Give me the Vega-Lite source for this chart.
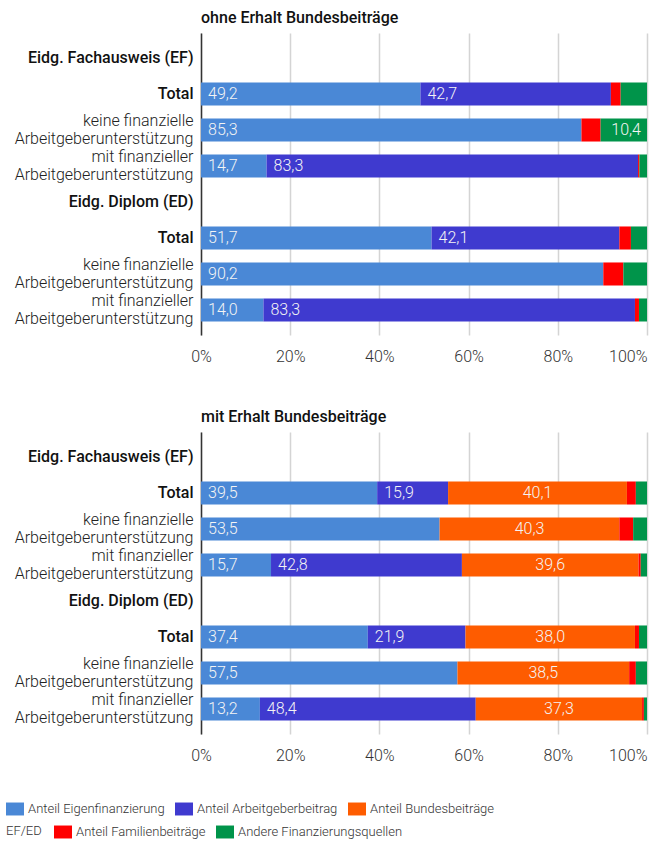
{
  "$schema": "https://vega.github.io/schema/vega-lite/v6.json",
  "padding": {"left": 6, "top": 10, "right": 3, "bottom": 5},
  "background": "white",
  "bounds": "flush",
  "data": {
    "values": [
      {"panel": "ohne", "row": "1|Eidg. Fachausweis (EF)", "category": "EF/ED", "value": 0},
      {"panel": "ohne", "row": "2|Total", "category": "Anteil Eigenfinanzierung", "value": 49.2},
      {"panel": "ohne", "row": "2|Total", "category": "Anteil Arbeitgeberbeitrag", "value": 42.7},
      {"panel": "ohne", "row": "2|Total", "category": "Anteil Familienbeiträge", "value": 2.2},
      {"panel": "ohne", "row": "2|Total", "category": "Andere Finanzierungsquellen", "value": 5.9},
      {"panel": "ohne", "row": "3|keine finanzielle|Arbeitgeberunterstützung", "category": "Anteil Eigenfinanzierung", "value": 85.3},
      {"panel": "ohne", "row": "3|keine finanzielle|Arbeitgeberunterstützung", "category": "Anteil Familienbeiträge", "value": 4.3},
      {"panel": "ohne", "row": "3|keine finanzielle|Arbeitgeberunterstützung", "category": "Andere Finanzierungsquellen", "value": 10.4},
      {"panel": "ohne", "row": "4|mit finanzieller|Arbeitgeberunterstützung", "category": "Anteil Eigenfinanzierung", "value": 14.7},
      {"panel": "ohne", "row": "4|mit finanzieller|Arbeitgeberunterstützung", "category": "Anteil Arbeitgeberbeitrag", "value": 83.3},
      {"panel": "ohne", "row": "4|mit finanzieller|Arbeitgeberunterstützung", "category": "Anteil Familienbeiträge", "value": 0.3},
      {"panel": "ohne", "row": "4|mit finanzieller|Arbeitgeberunterstützung", "category": "Andere Finanzierungsquellen", "value": 1.7},
      {"panel": "ohne", "row": "5|Eidg. Diplom (ED)", "category": "EF/ED", "value": 0},
      {"panel": "ohne", "row": "6|Total", "category": "Anteil Eigenfinanzierung", "value": 51.7},
      {"panel": "ohne", "row": "6|Total", "category": "Anteil Arbeitgeberbeitrag", "value": 42.1},
      {"panel": "ohne", "row": "6|Total", "category": "Anteil Familienbeiträge", "value": 2.6},
      {"panel": "ohne", "row": "6|Total", "category": "Andere Finanzierungsquellen", "value": 3.6},
      {"panel": "ohne", "row": "7|keine finanzielle|Arbeitgeberunterstützung", "category": "Anteil Eigenfinanzierung", "value": 90.2},
      {"panel": "ohne", "row": "7|keine finanzielle|Arbeitgeberunterstützung", "category": "Anteil Familienbeiträge", "value": 4.5},
      {"panel": "ohne", "row": "7|keine finanzielle|Arbeitgeberunterstützung", "category": "Andere Finanzierungsquellen", "value": 5.3},
      {"panel": "ohne", "row": "8|mit finanzieller|Arbeitgeberunterstützung", "category": "Anteil Eigenfinanzierung", "value": 14.0},
      {"panel": "ohne", "row": "8|mit finanzieller|Arbeitgeberunterstützung", "category": "Anteil Arbeitgeberbeitrag", "value": 83.3},
      {"panel": "ohne", "row": "8|mit finanzieller|Arbeitgeberunterstützung", "category": "Anteil Familienbeiträge", "value": 0.9},
      {"panel": "ohne", "row": "8|mit finanzieller|Arbeitgeberunterstützung", "category": "Andere Finanzierungsquellen", "value": 1.8},

      {"panel": "mit", "row": "1|Eidg. Fachausweis (EF)", "category": "EF/ED", "value": 0},
      {"panel": "mit", "row": "2|Total", "category": "Anteil Eigenfinanzierung", "value": 39.5},
      {"panel": "mit", "row": "2|Total", "category": "Anteil Arbeitgeberbeitrag", "value": 15.9},
      {"panel": "mit", "row": "2|Total", "category": "Anteil Bundesbeiträge", "value": 40.1},
      {"panel": "mit", "row": "2|Total", "category": "Anteil Familienbeiträge", "value": 2.0},
      {"panel": "mit", "row": "2|Total", "category": "Andere Finanzierungsquellen", "value": 2.5},
      {"panel": "mit", "row": "3|keine finanzielle|Arbeitgeberunterstützung", "category": "Anteil Eigenfinanzierung", "value": 53.5},
      {"panel": "mit", "row": "3|keine finanzielle|Arbeitgeberunterstützung", "category": "Anteil Bundesbeiträge", "value": 40.3},
      {"panel": "mit", "row": "3|keine finanzielle|Arbeitgeberunterstützung", "category": "Anteil Familienbeiträge", "value": 3.1},
      {"panel": "mit", "row": "3|keine finanzielle|Arbeitgeberunterstützung", "category": "Andere Finanzierungsquellen", "value": 3.1},
      {"panel": "mit", "row": "4|mit finanzieller|Arbeitgeberunterstützung", "category": "Anteil Eigenfinanzierung", "value": 15.7},
      {"panel": "mit", "row": "4|mit finanzieller|Arbeitgeberunterstützung", "category": "Anteil Arbeitgeberbeitrag", "value": 42.8},
      {"panel": "mit", "row": "4|mit finanzieller|Arbeitgeberunterstützung", "category": "Anteil Bundesbeiträge", "value": 39.6},
      {"panel": "mit", "row": "4|mit finanzieller|Arbeitgeberunterstützung", "category": "Anteil Familienbeiträge", "value": 0.5},
      {"panel": "mit", "row": "4|mit finanzieller|Arbeitgeberunterstützung", "category": "Andere Finanzierungsquellen", "value": 1.4},
      {"panel": "mit", "row": "5|Eidg. Diplom (ED)", "category": "EF/ED", "value": 0},
      {"panel": "mit", "row": "6|Total", "category": "Anteil Eigenfinanzierung", "value": 37.4},
      {"panel": "mit", "row": "6|Total", "category": "Anteil Arbeitgeberbeitrag", "value": 21.9},
      {"panel": "mit", "row": "6|Total", "category": "Anteil Bundesbeiträge", "value": 38.0},
      {"panel": "mit", "row": "6|Total", "category": "Anteil Familienbeiträge", "value": 0.9},
      {"panel": "mit", "row": "6|Total", "category": "Andere Finanzierungsquellen", "value": 1.8},
      {"panel": "mit", "row": "7|keine finanzielle|Arbeitgeberunterstützung", "category": "Anteil Eigenfinanzierung", "value": 57.5},
      {"panel": "mit", "row": "7|keine finanzielle|Arbeitgeberunterstützung", "category": "Anteil Bundesbeiträge", "value": 38.5},
      {"panel": "mit", "row": "7|keine finanzielle|Arbeitgeberunterstützung", "category": "Anteil Familienbeiträge", "value": 1.5},
      {"panel": "mit", "row": "7|keine finanzielle|Arbeitgeberunterstützung", "category": "Andere Finanzierungsquellen", "value": 2.5},
      {"panel": "mit", "row": "8|mit finanzieller|Arbeitgeberunterstützung", "category": "Anteil Eigenfinanzierung", "value": 13.2},
      {"panel": "mit", "row": "8|mit finanzieller|Arbeitgeberunterstützung", "category": "Anteil Arbeitgeberbeitrag", "value": 48.4},
      {"panel": "mit", "row": "8|mit finanzieller|Arbeitgeberunterstützung", "category": "Anteil Bundesbeiträge", "value": 37.3},
      {"panel": "mit", "row": "8|mit finanzieller|Arbeitgeberunterstützung", "category": "Anteil Familienbeiträge", "value": 0.4},
      {"panel": "mit", "row": "8|mit finanzieller|Arbeitgeberunterstützung", "category": "Andere Finanzierungsquellen", "value": 0.7}
    ]
  },
  "transform": [
    {"calculate": "indexof(['Anteil Eigenfinanzierung','Anteil Arbeitgeberbeitrag','Anteil Bundesbeiträge','Anteil Familienbeiträge','Andere Finanzierungsquellen','EF/ED'], datum.category)", "as": "k"},
    {"stack": "value", "groupby": ["panel", "row"], "sort": [{"field": "k", "order": "ascending"}], "as": ["x0", "x1"]},
    {"calculate": "(datum.x0 + datum.x1) / 2", "as": "xm"},
    {"calculate": "replace(format(datum.value, '.1f'), '.', ',')", "as": "lbl"}
  ],
  "vconcat": [
    {
      "title": {"text": "ohne Erhalt Bundesbeiträge"},
      "width": 446,
      "height": 302,
      "transform": [{"filter": "datum.panel === 'ohne'"}],
      "encoding": {
        "y": {"field": "row", "type": "nominal", "sort": "ascending", "title": null,
              "scale": {"paddingInner": 0.36, "paddingOuter": 0.375}}
      },
      "layer": [
        {"mark": {"type": "bar"},
         "encoding": {
           "x": {"field": "x0", "type": "quantitative", "scale": {"domain": [0, 100], "nice": false}, "title": null,
                 "axis": {"values": [0, 20, 40, 60, 80, 100]}},
           "x2": {"field": "x1"},
           "color": {"field": "category", "type": "nominal",
                     "scale": {"domain": ["Anteil Eigenfinanzierung", "Anteil Arbeitgeberbeitrag", "Anteil Bundesbeiträge", "EF/ED", "Anteil Familienbeiträge", "Andere Finanzierungsquellen"],
                               "range": ["#4a88d6", "#3f3acf", "#fe5c00", "#ffffff", "#ff0000", "#00944a"]},
                     "legend": {
                       "title": "EF/ED", "titleOrient": "left", "titleAnchor": "middle", "titleBaseline": "middle",
                       "titleFont": "Roboto", "titleFontSize": 13, "titleFontWeight": 300, "titleColor": "#333333", "titlePadding": 12,
                       "values": ["Anteil Familienbeiträge", "Andere Finanzierungsquellen"],
                       "orient": "none", "legendX": -195, "legendY": 790, "direction": "horizontal"
                     }}
         }},
        {"transform": [{"filter": "datum.value >= 10 && datum.category !== 'Anteil Bundesbeiträge' && datum.category !== 'Andere Finanzierungsquellen'"}],
         "mark": {"type": "text", "align": "left", "dx": 7, "baseline": "middle"},
         "encoding": {"x": {"field": "x0", "type": "quantitative"}, "text": {"field": "lbl"}}},
        {"transform": [{"filter": "datum.value >= 10 && datum.category === 'Anteil Bundesbeiträge'"}],
         "mark": {"type": "text", "align": "center", "baseline": "middle"},
         "encoding": {"x": {"field": "xm", "type": "quantitative"}, "text": {"field": "lbl"}}},
        {"transform": [{"filter": "datum.value >= 10 && datum.category === 'Andere Finanzierungsquellen'"}],
         "mark": {"type": "text", "align": "right", "dx": -6, "baseline": "middle"},
         "encoding": {"x": {"field": "x1", "type": "quantitative"}, "text": {"field": "lbl"}}}
      ]
    },
    {
      "title": {"text": "mit Erhalt Bundesbeiträge"},
      "width": 446,
      "height": 302,
      "transform": [{"filter": "datum.panel === 'mit'"}],
      "encoding": {
        "y": {"field": "row", "type": "nominal", "sort": "ascending", "title": null,
              "scale": {"paddingInner": 0.36, "paddingOuter": 0.375}}
      },
      "layer": [
        {"mark": {"type": "bar"},
         "encoding": {
           "x": {"field": "x0", "type": "quantitative", "scale": {"domain": [0, 100], "nice": false}, "title": null,
                 "axis": {"values": [0, 20, 40, 60, 80, 100]}},
           "x2": {"field": "x1"},
           "color": {"field": "category", "type": "nominal",
                     "scale": {"domain": ["Anteil Eigenfinanzierung", "Anteil Arbeitgeberbeitrag", "Anteil Bundesbeiträge", "EF/ED", "Anteil Familienbeiträge", "Andere Finanzierungsquellen"],
                               "range": ["#4a88d6", "#3f3acf", "#fe5c00", "#ffffff", "#ff0000", "#00944a"]},
                     "legend": {
                       "title": null,
                       "values": ["Anteil Eigenfinanzierung", "Anteil Arbeitgeberbeitrag", "Anteil Bundesbeiträge"],
                       "orient": "none", "legendX": -195, "legendY": 368, "direction": "horizontal"
                     }}
         }},
        {"transform": [{"filter": "datum.value >= 10 && datum.category !== 'Anteil Bundesbeiträge' && datum.category !== 'Andere Finanzierungsquellen'"}],
         "mark": {"type": "text", "align": "left", "dx": 7, "baseline": "middle"},
         "encoding": {"x": {"field": "x0", "type": "quantitative"}, "text": {"field": "lbl"}}},
        {"transform": [{"filter": "datum.value >= 10 && datum.category === 'Anteil Bundesbeiträge'"}],
         "mark": {"type": "text", "align": "center", "baseline": "middle"},
         "encoding": {"x": {"field": "xm", "type": "quantitative"}, "text": {"field": "lbl"}}},
        {"transform": [{"filter": "datum.value >= 10 && datum.category === 'Andere Finanzierungsquellen'"}],
         "mark": {"type": "text", "align": "right", "dx": -6, "baseline": "middle"},
         "encoding": {"x": {"field": "x1", "type": "quantitative"}, "text": {"field": "lbl"}}}
      ]
    }
  ],
  "spacing": 97,
  "config": {
    "font": "Roboto",
    "view": {"stroke": null},
    "title": {"anchor": "start", "frame": "group", "font": "Roboto", "fontSize": 16, "fontWeight": 500, "color": "#111111", "offset": 7},
    "text": {"font": "Roboto", "fontSize": 16, "fontWeight": 300, "color": "#f4f4f4"},
    "bar": {"stroke": null},
    "axisX": {
      "domain": false, "ticks": false, "tickSize": 0, "grid": true, "gridColor": "#d4d4d4", "gridWidth": 1.5,
      "labelFont": "Roboto", "labelFontSize": 16, "labelFontWeight": 300, "labelColor": "#333333", "labelPadding": 13,
      "labelExpr": "datum.value + '%'",
      "labelAlign": {"condition": {"test": "datum.value === 100", "value": "right"}, "value": "center"},
      "labelFlush": false
    },
    "axisY": {
      "domain": true, "domainColor": "#333333", "domainWidth": 1.5, "ticks": false, "tickSize": 0, "grid": false,
      "labelFont": "Roboto", "labelFontSize": 16, "labelPadding": 8, "labelLimit": 400,
      "labelLineHeight": 18,
      "labelExpr": "slice(split(datum.label, '|'), 1)",
      "labelOffset": {"condition": {"test": "indexof(['3','4','7','8'], slice(datum.value, 0, 1)) >= 0", "value": -9}, "value": 0},
      "labelFontWeight": {"condition": {"test": "indexof(['1','2','5','6'], slice(datum.value, 0, 1)) >= 0", "value": 500}, "value": 300},
      "labelColor": {"condition": {"test": "indexof(['1','2','5','6'], slice(datum.value, 0, 1)) >= 0", "value": "#111111"}, "value": "#222222"}
    },
    "legend": {
      "symbolType": "M-1,-0.72H1V0.72H-1Z", "symbolSize": 324, "symbolStrokeWidth": 0,
      "labelFont": "Roboto", "labelFontSize": 13, "labelFontWeight": 300, "labelColor": "#333333",
      "labelOffset": 4, "columnPadding": 10, "rowPadding": 6, "labelLimit": 400
    }
  },
  "resolve": {"legend": {"color": "independent"}}
}
